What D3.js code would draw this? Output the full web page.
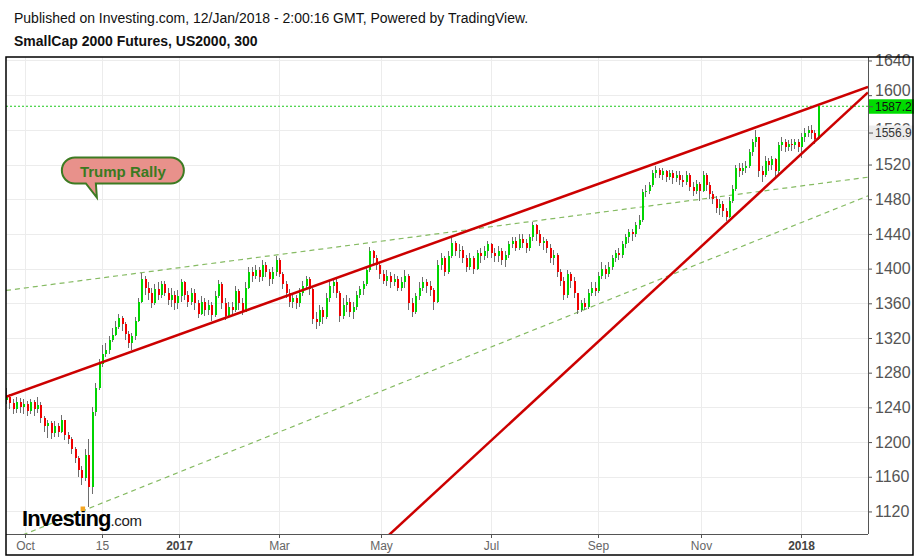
<!DOCTYPE html>
<html><head><meta charset="utf-8">
<script src="https://cdn.jsdelivr.net/npm/d3@7/dist/d3.min.js"></script>
<style>
body{margin:0;background:#fff}
svg{display:block;font-family:"Liberation Sans",Arial,Helvetica,sans-serif}
</style>
</head><body>
<svg id="chart" width="920" height="558"></svg>
<script>
// ---------- DATA ----------
const startDate = "2016-09-20";     // first candle
const candleStepDays = 2;           // one candle per two calendar days
const firstOpen = 1248;
const closes = [
1252,1245,1238,1246,1240,1244,1236,1246,1238,1243,
1228,1218,1222,1210,1218,1212,1225,1208,1204,1192,
1182,1168,1158,1185,1148,1235,1262,1290,1302,1306,
1318,1324,1333,1343,1336,1325,1314,1322,1340,1362,
1388,1378,1372,1360,1376,1370,1382,1372,1364,1370,
1360,1368,1384,1370,1362,1372,1360,1348,1362,1352,
1358,1346,1368,1382,1360,1345,1356,1352,1374,1360,
1350,1378,1396,1392,1398,1390,1404,1396,1388,1396,
1410,1394,1382,1372,1362,1366,1360,1372,1380,1388,
1376,1342,1338,1352,1344,1366,1380,1384,1372,1345,
1358,1362,1350,1356,1370,1376,1382,1398,1420,1412,
1404,1394,1386,1392,1384,1388,1378,1384,1392,1360,
1350,1368,1378,1384,1380,1375,1362,1404,1412,1396,
1415,1430,1420,1422,1412,1402,1412,1400,1418,1414,
1420,1428,1418,1414,1420,1410,1416,1428,1432,1424,
1434,1430,1424,1436,1450,1440,1430,1432,1424,1412,
1416,1396,1386,1370,1394,1386,1372,1352,1360,1356,
1372,1378,1374,1392,1400,1394,1402,1412,1418,1416,
1428,1436,1442,1440,1450,1456,1488,1490,1496,1510,
1514,1508,1512,1506,1510,1504,1508,1502,1500,1508,
1494,1490,1498,1490,1508,1496,1486,1480,1470,1474,
1466,1460,1478,1492,1516,1512,1516,1518,1534,1546,
1552,1512,1508,1524,1520,1526,1512,1542,1546,1540,
1544,1542,1546,1540,1552,1556,1560,1556,1550,1587.2];
const highs = [
1262,1255,1250,1252,1251,1250,1247,1250,1248,1252,
1246,1230,1226,1224,1224,1222,1231,1226,1212,1206,
1194,1184,1172,1192,1204,1240,1268,1296,1312,1314,
1322,1332,1340,1348,1345,1338,1328,1326,1344,1366,
1395,1392,1384,1378,1382,1384,1386,1386,1378,1378,
1374,1375,1388,1386,1374,1378,1376,1364,1368,1366,
1364,1362,1374,1387,1384,1366,1362,1362,1380,1376,
1366,1384,1402,1402,1404,1402,1410,1408,1400,1402,
1414,1412,1396,1386,1376,1372,1370,1378,1386,1392,
1390,1378,1350,1358,1356,1372,1386,1388,1388,1374,
1366,1370,1366,1362,1374,1380,1386,1402,1425,1422,
1416,1408,1398,1398,1396,1394,1392,1390,1398,1394,
1366,1372,1384,1390,1388,1386,1378,1410,1418,1414,
1420,1436,1432,1428,1426,1416,1418,1414,1422,1424,
1426,1432,1430,1424,1426,1424,1420,1432,1436,1436,
1440,1440,1434,1440,1454,1452,1444,1436,1434,1428,
1422,1418,1400,1390,1398,1396,1390,1372,1364,1366,
1376,1384,1384,1396,1408,1404,1408,1416,1422,1424,
1432,1440,1446,1446,1454,1462,1492,1496,1500,1514,
1518,1516,1516,1514,1514,1514,1512,1512,1508,1512,
1510,1500,1502,1500,1512,1510,1500,1490,1484,1480,
1478,1470,1482,1496,1520,1522,1522,1524,1538,1550,
1560,1552,1518,1530,1528,1530,1528,1546,1552,1550,
1548,1550,1550,1550,1556,1562,1564,1566,1560,1590];
const lows = [
1244,1238,1232,1234,1234,1232,1230,1232,1230,1234,
1222,1212,1205,1204,1206,1206,1210,1202,1198,1186,
1176,1160,1150,1155,1125,1140,1230,1260,1286,1298,
1302,1315,1322,1330,1328,1318,1308,1306,1318,1338,
1360,1370,1364,1355,1358,1364,1366,1368,1358,1356,
1352,1354,1362,1364,1356,1358,1352,1343,1346,1345,
1346,1340,1344,1366,1354,1341,1344,1346,1350,1352,
1347,1350,1376,1384,1388,1384,1386,1390,1380,1382,
1392,1390,1376,1366,1356,1355,1354,1356,1368,1376,
1370,1336,1330,1334,1336,1342,1362,1372,1366,1338,
1342,1350,1344,1342,1352,1366,1370,1380,1396,1404,
1398,1388,1382,1380,1378,1380,1374,1374,1378,1352,
1344,1348,1364,1374,1372,1368,1352,1360,1398,1392,
1394,1412,1414,1412,1406,1396,1398,1394,1398,1406,
1410,1412,1412,1408,1408,1404,1402,1412,1424,1420,
1422,1424,1418,1420,1432,1432,1426,1422,1418,1406,
1404,1390,1380,1364,1366,1378,1366,1348,1350,1352,
1354,1368,1368,1372,1388,1388,1390,1398,1408,1410,
1412,1424,1430,1432,1436,1446,1454,1482,1486,1494,
1504,1504,1502,1500,1502,1498,1500,1496,1494,1496,
1490,1484,1486,1478,1488,1490,1480,1474,1464,1462,
1460,1455,1458,1476,1490,1506,1508,1510,1516,1530,
1540,1506,1500,1506,1512,1514,1506,1508,1536,1534,
1536,1536,1538,1534,1528,1546,1552,1550,1544,1548];

const yTicks = [1120,1160,1200,1240,1280,1320,1360,1400,1440,1480,1520,1560,1600,1640];
const xTickDates  = ["2016-10-01","2016-11-15","2017-01-01","2017-03-01","2017-05-01","2017-07-01","2017-09-01","2017-11-01","2018-01-01"];
const xTickLabels = ["Oct","15","2017","Mar","May","Jul","Sep","Nov","2018"];
const xTickBold   = [false,false,true,false,false,false,false,false,true];
const lastPrice = 1587.2;
const prevPrice = 1556.9;
// trend lines: [date, price] end points
const redLines = [
  [["2016-09-20",1252.3],["2018-02-10",1609.4]],
  [["2017-05-01",1084.4],["2018-02-10",1603.2]]
];
const greenLines = [
  [["2016-09-20",1374.8],["2018-02-10",1505.4]],
  [["2016-09-20",1085.2],["2018-02-10",1483.9]]
];
const note = {text:"Trump Rally", date:"2016-11-12", price:1482};
const header1 = "Published on Investing.com, 12/Jan/2018 - 2:00:16 GMT, Powered by TradingView.";
const header2 = "SmallCap 2000 Futures, US2000, 300";

// ---------- LAYOUT ----------
const parse = d3.timeParse("%Y-%m-%d");
const L = 6, R = 868, T = 57, B = 534;
const svg = d3.select("#chart");

// time scale (weekends compressed by TradingView -> piecewise calibration)
const x = d3.scaleTime()
  .domain(["2016-09-20","2016-10-01","2016-11-15","2017-01-01","2017-03-01","2017-05-01","2017-07-01","2017-09-01","2017-11-01","2018-01-01","2018-02-10"].map(parse))
  .range([L,25,102,179,279,381,491,598,701,801,R]);
const y = d3.scaleLinear().domain([1094,1644]).range([B,T]);

const start = parse(startDate);
const candles = closes.map((c,i)=>({
  date: d3.timeDay.offset(start, i*candleStepDays),
  o: i===0 ? firstOpen : closes[i-1], h: highs[i], l: lows[i], c: c
}));

// header
svg.append("text").attr("x",14).attr("y",23).attr("font-size",14).attr("fill","#111").text(header1);
svg.append("text").attr("x",14).attr("y",46).attr("font-size",14).attr("font-weight","bold").attr("fill","#111").text(header2);

// clip
svg.append("defs").append("clipPath").attr("id","plot")
  .append("rect").attr("x",L).attr("y",T).attr("width",R-L).attr("height",B-T);

// grid
const grid = svg.append("g").attr("clip-path","url(#plot)").attr("shape-rendering","crispEdges");
grid.selectAll("line.h").data(yTicks).join("line").attr("class","h")
  .attr("x1",L).attr("x2",R).attr("y1",d=>Math.round(y(d))+0.5).attr("y2",d=>Math.round(y(d))+0.5)
  .attr("stroke","#ececec");
grid.selectAll("line.v").data(xTickDates).join("line").attr("class","v")
  .attr("y1",T).attr("y2",B).attr("x1",d=>Math.round(x(parse(d)))+0.5).attr("x2",d=>Math.round(x(parse(d)))+0.5)
  .attr("stroke","#ececec");

const plot = svg.append("g").attr("clip-path","url(#plot)");

// green dashed trend lines
const lineGen = d3.line().x(d=>x(parse(d[0]))).y(d=>y(d[1]));
plot.selectAll("path.g").data(greenLines).join("path").attr("class","g")
  .attr("d",lineGen).attr("fill","none").attr("stroke","#86bb63").attr("stroke-width",1.2)
  .attr("stroke-dasharray","5,4");

// last price dotted line
plot.append("line").attr("x1",L).attr("x2",R).attr("y1",y(lastPrice)).attr("y2",y(lastPrice))
  .attr("stroke","#1cc81c").attr("stroke-width",1).attr("stroke-dasharray","2,2");

// candles
const cg = plot.append("g").attr("shape-rendering","crispEdges");
const cs = cg.selectAll("g").data(candles).join("g");
cs.append("line")
  .attr("x1",d=>Math.round(x(d.date))+0.5).attr("x2",d=>Math.round(x(d.date))+0.5)
  .attr("y1",d=>y(d.h)).attr("y2",d=>y(d.l)).attr("stroke","#6e6e6e").attr("stroke-width",1);
cs.append("rect")
  .attr("x",d=>Math.round(x(d.date))-0.5).attr("width",2)
  .attr("y",d=>y(Math.max(d.o,d.c)))
  .attr("height",d=>Math.max(1.5, Math.abs(y(d.o)-y(d.c))))
  .attr("fill",d=>d.c>=d.o ? "#00d400" : "#f00000");

// red trend lines
plot.selectAll("path.r").data(redLines).join("path").attr("class","r")
  .attr("d",lineGen).attr("fill","none").attr("stroke","#cc0000").attr("stroke-width",2.5);

// axes
const yAxis = d3.axisRight(y).tickValues(yTicks).tickSize(4).tickSizeOuter(0).tickPadding(3).tickFormat(d3.format("d"));
const ya = svg.append("g").attr("transform",`translate(${R},0)`).call(yAxis);
ya.select(".domain").attr("stroke","#555").attr("d",`M0.5,${T}V${B}`);
ya.selectAll(".tick line").attr("stroke","#555");
ya.selectAll(".tick text").attr("font-size",16).attr("fill","#555").attr("font-family",null)
  .attr("dy",d=>{ // tick label just above the last-price tag is pushed up (as TradingView does)
    const gap = y(lastPrice)-y(d);
    return (gap>0 && gap<14) ? "0.02em" : "0.32em";
  });

const xAxis = d3.axisBottom(x).tickValues(xTickDates.map(parse)).tickSize(4).tickSizeOuter(0).tickPadding(3)
  .tickFormat((d,i)=>xTickLabels[i]);
const xa = svg.append("g").attr("transform",`translate(0,${B})`).call(xAxis);
xa.select(".domain").attr("stroke","#555").attr("d",`M${L},0.5H${R}`);
xa.selectAll(".tick line").attr("stroke","#555");
xa.selectAll(".tick text").attr("font-size",12).attr("font-family",null)
  .attr("font-weight",(d,i)=>xTickBold[i]?"bold":"normal")
  .attr("fill",(d,i)=>xTickBold[i]?"#444":"#666");

// price labels
function priceLabel(v, bg, fg){
  const g = svg.append("g").attr("transform",`translate(${R},${y(v)})`);
  g.append("rect").attr("x",1).attr("y",-7).attr("width",45).attr("height",14.5).attr("fill",bg);
  g.append("line").attr("x1",1).attr("x2",5).attr("y1",0.5).attr("y2",0.5).attr("stroke","#555");
  g.append("text").attr("x",7).attr("y",4.5).attr("font-size",12).attr("fill",fg).text(d3.format(".1f")(v));
}
priceLabel(prevPrice,"#ececec","#333");
priceLabel(lastPrice,"#00dc00","#111");

// annotation bubble
{
  const tx = x(parse(note.date)), ty = y(note.price);
  const left = tx-35, right = tx+87, top = ty-40, bottom = ty-14, r = 13;
  const p = `M${left+r},${top}H${right-r}A${r},${r} 0 0 1 ${right-r},${bottom}H${tx-1}L${tx},${ty}L${tx-11},${bottom}H${left+r}A${r},${r} 0 0 1 ${left+r},${top}Z`;
  svg.append("path").attr("d",p).attr("fill","#e8918b").attr("stroke","#3d7b22").attr("stroke-width",2);
  svg.append("text").attr("x",(left+right)/2).attr("y",bottom-6).attr("text-anchor","middle")
    .attr("font-size",15).attr("font-weight","bold").attr("fill","#3a7a1f").text(note.text);
}

// logo
{
  const t = svg.append("text").attr("x",22).attr("y",526);
  t.append("tspan").attr("font-size",22).attr("font-weight","bold").attr("letter-spacing",-0.9).attr("fill","#000").text("Investing");
  t.append("tspan").attr("font-size",15).attr("fill","#222").attr("letter-spacing",-0.3).text(".com");
  try {
    const ext = t.node().getExtentOfChar(6);
    svg.append("rect").attr("x",ext.x+ext.width/2-2.2).attr("y",526-19.5).attr("width",4.5).attr("height",4.5).attr("fill","#f5a623");
  } catch(e){}
}

// frame
svg.append("rect").attr("x",6).attr("y",57).attr("width",907).attr("height",498)
  .attr("fill","none").attr("stroke","#000").attr("stroke-width",1.5);
</script>
</body></html>
